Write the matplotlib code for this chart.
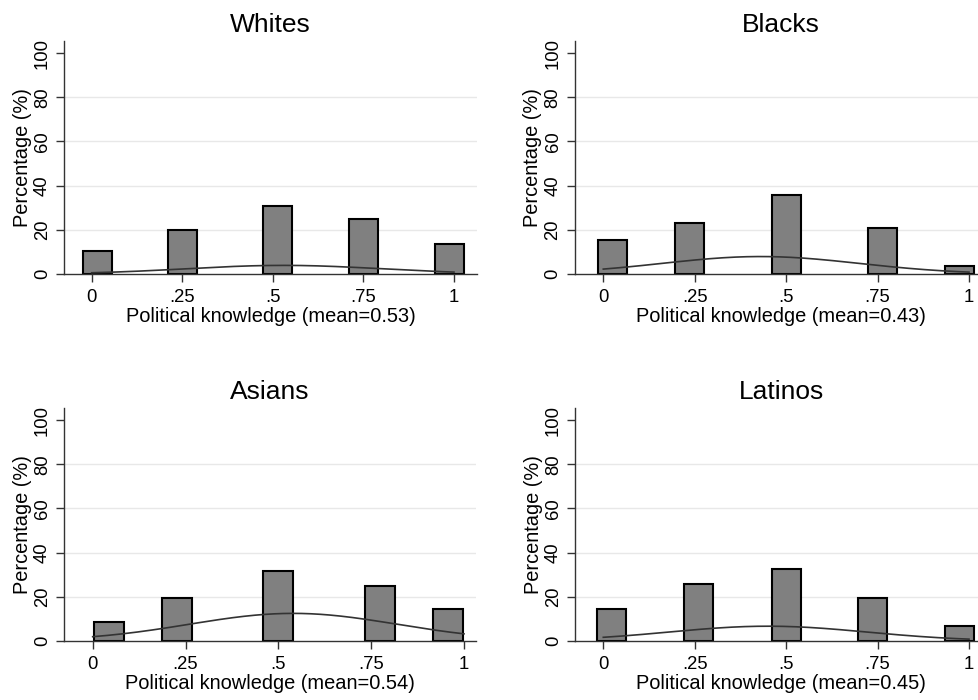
import numpy as np
import matplotlib
matplotlib.use("Agg")
import matplotlib.pyplot as plt

plt.rcParams["font.family"] = ["Liberation Sans", "DejaVu Sans"]

# Histogram bins (left edge of each bar) and percentage heights per group
GROUPS = ["Whites", "Blacks", "Asians", "Latinos"]
MEANS = [0.53, 0.43, 0.54, 0.45]

whites_left = [-0.025, 0.211, 0.474, 0.711, 0.947]
whites_pct = [10.3, 19.7, 30.8, 24.8, 13.7]

blacks_left = [-0.015, 0.196, 0.460, 0.723, 0.934]
blacks_pct = [15.6, 23.2, 35.6, 20.8, 3.6]

asians_left = [0.004, 0.187, 0.459, 0.734, 0.916]
asians_pct = [8.8, 19.4, 31.5, 25.1, 14.3]

latinos_left = [-0.018, 0.221, 0.460, 0.696, 0.934]
latinos_pct = [14.6, 25.8, 32.6, 19.5, 6.8]

BAR_WIDTH = 0.08

# Normal overlay: standard deviation and peak height of each curve
curve_sd = [0.27, 0.27, 0.28, 0.27]
curve_peak = [3.9, 7.9, 12.5, 6.7]

x_ticks = [0, 0.25, 0.5, 0.75, 1]
x_ticklabels = ["0", ".25", ".5", ".75", "1"]
y_ticks = [0, 20, 40, 60, 80, 100]

# Panel placement in pixels: (left, bottom of plot region, x at 0, x at 1)
W, H = 979, 700
PANELS = [
    (64.3, 274.0, 91.7, 454.0),
    (574.7, 274.0, 603.3, 969.0),
    (64.0, 641.0, 92.7, 464.0),
    (575.0, 641.0, 603.3, 969.0),
]
AX_W, AX_H = 412.4, 233.3
Y_TOP = 105.6

lefts = [whites_left, blacks_left, asians_left, latinos_left]
pcts = [whites_pct, blacks_pct, asians_pct, latinos_pct]

fig = plt.figure(figsize=(W / 100, H / 100), dpi=100)

for i, group in enumerate(GROUPS):
    left_px, base_px, x0_px, x1_px = PANELS[i]
    ax = fig.add_axes([left_px / W, (H - base_px) / H, AX_W / W, AX_H / H])
    scale = x1_px - x0_px
    ax.set_xlim((left_px - x0_px) / scale, (left_px + AX_W - x0_px) / scale)
    ax.set_ylim(0, Y_TOP)

    for y in y_ticks[1:-1]:
        ax.axhline(y, color="#e8e8e8", lw=1.0, zorder=0)

    ax.bar(lefts[i], pcts[i], width=BAR_WIDTH, align="edge",
           color="#808080", edgecolor="black", linewidth=1.5, zorder=2)

    xs = np.linspace(0, 1, 200)
    ys = curve_peak[i] * np.exp(-0.5 * ((xs - MEANS[i]) / curve_sd[i]) ** 2)
    ax.plot(xs, ys, color="#333333", lw=1.2, zorder=3)

    ax.set_xticks(x_ticks)
    ax.set_xticklabels(x_ticklabels)
    ax.set_yticks(y_ticks)
    ax.tick_params(axis="both", direction="out", length=5.5, width=1.0,
                   labelsize=13.3, color="#333333", pad=5)
    ax.tick_params(axis="y", labelrotation=90, pad=4)
    for lab in ax.get_yticklabels():
        lab.set_va("center")

    for side in ("top", "right"):
        ax.spines[side].set_visible(False)
    for side in ("left", "bottom"):
        ax.spines[side].set_color("#333333")
        ax.spines[side].set_linewidth(1.0)

    ax.set_title(group, fontsize=19, pad=6.5)
    ax.set_ylabel("Percentage (%)", fontsize=14.4, labelpad=1.5)
    ax.set_xlabel(f"Political knowledge (mean={MEANS[i]:.2f})", fontsize=14.4, labelpad=1)

fig.savefig("out.png", dpi=100)
